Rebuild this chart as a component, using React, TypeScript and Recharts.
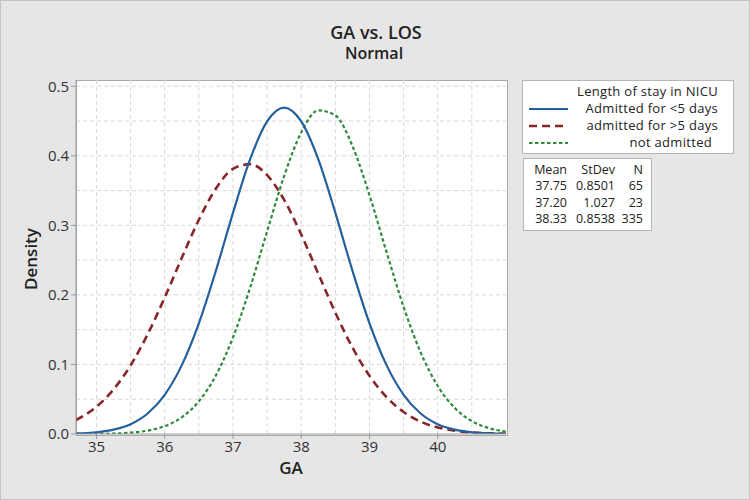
import React from 'react';
import { LineChart, Line, XAxis, YAxis, CartesianGrid } from 'recharts';

// GA grid points
const gaValues = [
  34.7, 35.0, 35.25, 35.5, 35.75, 36.0, 36.25, 36.5, 36.75, 37.0, 37.25, 37.5, 37.75,
  38.0, 38.25, 38.5, 38.75, 39.0, 39.25, 39.5, 39.75, 40.0, 40.25, 40.5, 40.75, 41.0,
];

const admittedUnder5 = [
  0.0008, 0.0025, 0.0062, 0.0141, 0.0295, 0.0564, 0.099, 0.1592, 0.2349, 0.318, 0.3948, 0.4494, 0.4693,
  0.4494, 0.3948, 0.318, 0.2349, 0.1592, 0.099, 0.0564, 0.0295, 0.0141, 0.0062, 0.0025, 0.0009, 0.0003,
];

const admittedOver5 = [
  0.0201, 0.0392, 0.0641, 0.0987, 0.1434, 0.1963, 0.2533, 0.308, 0.3529, 0.3812, 0.388, 0.3723, 0.3366,
  0.2868, 0.2304, 0.1744, 0.1244, 0.0836, 0.053, 0.0316, 0.0178, 0.0094, 0.0047, 0.0022, 0.001, 0.0004,
];

const notAdmitted = [
  0.0001, 0.0002, 0.0007, 0.0019, 0.0049, 0.0113, 0.024, 0.047, 0.0843, 0.1389, 0.21, 0.2913, 0.371,
  0.4337, 0.4653, 0.4581, 0.4141, 0.3435, 0.2615, 0.1827, 0.1172, 0.069, 0.0373, 0.0185, 0.0084, 0.0035,
];

const xTicks = [35, 36, 37, 38, 39, 40];
const yTicks = [0, 0.1, 0.2, 0.3, 0.4, 0.5];
const xGrid = [35, 35.5, 36, 36.5, 37, 37.5, 38, 38.5, 39, 39.5, 40, 40.5];
const yGrid = [0.05, 0.1, 0.15, 0.2, 0.25, 0.3, 0.35, 0.4, 0.45, 0.5];

const seriesNames = ['Admitted for <5 days', 'admitted for >5 days', 'not admitted'];
const statHeader = ['Mean', 'StDev', 'N'];
const statRows = [
  ['37.75', '0.8501', '65'],
  ['37.20', '1.027', '23'],
  ['38.33', '0.8538', '335'],
];

const BLUE = '#23609c';
const RED = '#86262a';
const GREEN = '#2f8a3c';
const FONT = '"Open Sans", "Noto Sans", sans-serif';

const data = gaValues.map((ga, i) => ({
  ga,
  under5: admittedUnder5[i],
  over5: admittedOver5[i],
  none: notAdmitted[i],
}));

const lineStyles = [
  { color: BLUE, dash: undefined, width: 2.2 },
  { color: RED, dash: '8 5', width: 2.6 },
  { color: GREEN, dash: '3.5 2.5', width: 2.2 },
];

export default function App() {
  return (
    <div
      style={{
        position: 'absolute', left: 0, top: 0, width: 750, height: 500,
        background: '#e6e6e6', border: '1px solid #c4c4c4', boxSizing: 'border-box',
        fontFamily: FONT, color: '#222', overflow: 'hidden',
      }}
    >
      {/* plot area background */}
      <div style={{ position: 'absolute', left: 75, top: 79, width: 430, height: 354, background: '#fff', border: '1px solid #a9a9a9' }} />

      <div style={{ position: 'absolute', left: 0, width: 750, top: 19, textAlign: 'center', fontSize: 18, fontWeight: 600 }}>GA vs. LOS</div>
      <div style={{ position: 'absolute', left: 0, width: 746, top: 41, textAlign: 'center', fontSize: 16, fontWeight: 600 }}>Normal</div>

      <div style={{ position: 'absolute', left: 0, top: 0 }}>
        <LineChart width={748} height={498} data={data} margin={{ top: 79, right: 243, bottom: 35, left: 35 }}>
          <CartesianGrid
            stroke="#d8d8d8"
            strokeDasharray="4 3"
            verticalValues={xGrid}
            horizontalValues={yGrid}
          />
          <XAxis
            dataKey="ga"
            type="number"
            domain={[34.7, 41.0]}
            ticks={xTicks}
            allowDataOverflow
            height={30}
            tickSize={5}
            stroke="#9a9a9a"
            tick={{ fill: '#333', fontSize: 15, fontFamily: FONT }}
          />
          <YAxis
            type="number"
            domain={[0, 0.509]}
            ticks={yTicks}
            allowDataOverflow
            width={40}
            tickSize={5}
            stroke="#9a9a9a"
            tickFormatter={(v: number) => v.toFixed(1)}
            tick={{ fill: '#333', fontSize: 15, fontFamily: FONT }}
          />
          <Line type="monotone" dataKey="over5" stroke={RED} strokeWidth={2.6} strokeDasharray="8 5" dot={false} isAnimationActive={false} />
          <Line type="monotone" dataKey="none" stroke={GREEN} strokeWidth={2.2} strokeDasharray="3.5 2.5" dot={false} isAnimationActive={false} />
          <Line type="monotone" dataKey="under5" stroke={BLUE} strokeWidth={2.2} dot={false} isAnimationActive={false} />
        </LineChart>
      </div>

      {/* axis titles */}
      <div style={{ position: 'absolute', left: 250, width: 80, top: 455, textAlign: 'center', fontSize: 17, fontWeight: 600 }}>GA</div>
      <div
        style={{
          position: 'absolute', left: 29, top: 258, fontSize: 17, fontWeight: 600,
          transform: 'translate(-50%, -50%) rotate(-90deg)', whiteSpace: 'nowrap',
        }}
      >
        Density
      </div>

      {/* legend */}
      <div style={{ position: 'absolute', left: 521, top: 79, width: 210, height: 72, background: '#fff', border: '1px solid #b5b5b5', fontSize: 13, lineHeight: '14px', letterSpacing: 0.3 }}>
        <div style={{ position: 'absolute', right: 15, top: 3, whiteSpace: 'nowrap' }}>Length of stay in NICU</div>
        {seriesNames.map((name, i) => (
          <div key={name} style={{ position: 'absolute', left: 0, right: 15, top: 20 + i * 17, height: 14 }}>
            <svg width={44} height={14} style={{ position: 'absolute', left: 5, top: 0 }}>
              <line
                x1={1} y1={8} x2={40} y2={8}
                stroke={lineStyles[i].color}
                strokeWidth={lineStyles[i].width}
                strokeDasharray={lineStyles[i].dash}
              />
            </svg>
            <div style={{ position: 'absolute', right: i === 2 ? 6 : 0, top: 0, whiteSpace: 'nowrap' }}>
              {name}
            </div>
          </div>
        ))}
      </div>

      {/* statistics table */}
      <div style={{ position: 'absolute', left: 522, top: 157, width: 127, height: 71, background: '#fff', border: '1px solid #b5b5b5', fontSize: 12.5, lineHeight: '14px' }}>
        {[statHeader, ...statRows].map((row, r) => (
          <div key={r} style={{ position: 'absolute', left: 0, top: 4 + r * 16.3, width: 127, height: 14 }}>
            {row.map((cell, c) => (
              <div key={c} style={{ position: 'absolute', right: [84, 36, 8][c], top: 0, whiteSpace: 'nowrap' }}>
                {cell}
              </div>
            ))}
          </div>
        ))}
      </div>
    </div>
  );
}
